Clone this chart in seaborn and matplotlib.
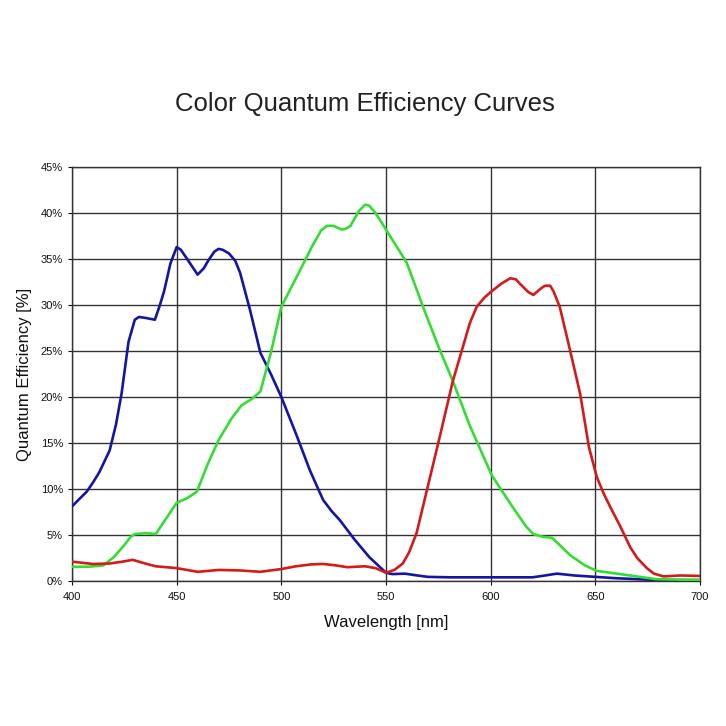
import matplotlib
matplotlib.use("Agg")
import matplotlib.pyplot as plt
import seaborn as sns
import pandas as pd
from matplotlib.ticker import FuncFormatter

blue_wl = [400, 403, 407, 410, 413, 418, 421, 423.7, 427, 430, 432, 435, 439.6, 442, 444, 447, 450, 452, 455, 460, 463, 465, 468, 470, 472, 475, 478, 480.3, 485, 490, 495, 500, 507, 513.7, 518, 520, 524, 528, 535, 542, 550, 553, 559, 565, 570, 580, 600, 620, 626, 631.6, 640, 650, 660, 670, 680, 700]
blue_qe = [8.1, 8.8, 9.7, 10.7, 11.8, 14.2, 17.0, 20.4, 26.0, 28.4, 28.7, 28.6, 28.4, 30.0, 31.5, 34.5, 36.3, 36.0, 35.0, 33.3, 34.0, 34.8, 35.8, 36.1, 36.0, 35.6, 34.8, 33.5, 29.5, 24.8, 22.5, 20.0, 16.0, 12.0, 9.8, 8.8, 7.6, 6.6, 4.5, 2.6, 0.9, 0.75, 0.8, 0.6, 0.45, 0.4, 0.4, 0.4, 0.6, 0.8, 0.6, 0.45, 0.3, 0.2, 0.1, 0.1]

green_wl = [400, 408, 415, 420, 425, 428, 430, 435, 440, 445, 450, 455, 459.6, 465, 470, 476, 481, 486, 490, 495, 500, 509, 515, 519, 521.7, 525, 528.8, 531, 533, 537, 540, 542, 545, 550, 559.9, 567.7, 575, 582, 590, 600.5, 610, 617, 620.4, 625, 629.3, 633, 638, 645, 650.7, 665, 679, 700]
green_qe = [1.55, 1.55, 1.7, 2.6, 3.9, 4.8, 5.1, 5.2, 5.1, 6.8, 8.5, 9.0, 9.7, 12.8, 15.3, 17.6, 19.1, 19.8, 20.6, 24.8, 29.8, 33.8, 36.5, 38.1, 38.6, 38.6, 38.2, 38.3, 38.6, 40.2, 40.9, 40.8, 40.0, 38.2, 34.6, 29.8, 25.5, 21.7, 16.9, 11.5, 8.2, 5.9, 5.1, 4.8, 4.7, 3.9, 2.8, 1.7, 1.1, 0.65, 0.2, 0.1]

red_wl = [400, 410, 418, 424, 429, 435, 440, 450, 460, 470, 480, 490, 500, 507, 514, 520, 526, 531.5, 540, 545, 550, 554, 558, 561, 564.6, 570, 575.7, 582, 586.8, 590, 593.3, 597, 600.5, 605, 609.3, 612, 614, 618, 620.4, 624, 626, 628.4, 630, 633, 638, 642.7, 647, 650.7, 654, 657, 662, 666.6, 670, 674.6, 678, 682.6, 690.7, 700]
red_qe = [2.1, 1.85, 1.9, 2.1, 2.3, 1.9, 1.6, 1.4, 1.0, 1.2, 1.15, 1.0, 1.3, 1.6, 1.8, 1.85, 1.7, 1.5, 1.6, 1.4, 0.9, 1.2, 1.9, 3.1, 5.2, 10.3, 15.7, 21.8, 25.5, 28.0, 29.8, 30.8, 31.5, 32.3, 32.9, 32.8, 32.3, 31.4, 31.1, 31.8, 32.1, 32.1, 31.5, 29.8, 25.0, 20.4, 14.5, 11.3, 9.5, 8.1, 5.9, 3.7, 2.5, 1.4, 0.8, 0.5, 0.6, 0.55]

x_ticks = [400, 450, 500, 550, 600, 650, 700]
y_ticks = [0, 5, 10, 15, 20, 25, 30, 35, 40, 45]

title = "Color Quantum Efficiency Curves"
xlabel = "Wavelength [nm]"
ylabel = "Quantum Efficiency [%]"

sns.set_theme(style="white")
plt.rcParams['font.family'] = ['Liberation Sans', 'DejaVu Sans']

fig = plt.figure(figsize=(7.26, 7.26), dpi=100)
ax = fig.add_axes([72/726, 145/726, 628/726, 414/726])

series = [(blue_wl, blue_qe, "#1515a5"), (green_wl, green_qe, "#33dd33"), (red_wl, red_qe, "#d41a1a")]
for wl, qe, col in series:
    df = pd.DataFrame({"wl": wl, "qe": qe})
    sns.lineplot(data=df, x="wl", y="qe", ax=ax, color=col, linewidth=1.9, zorder=3,
                 solid_joinstyle="round", solid_capstyle="round")

ax.set_xlim(400, 700)
ax.set_ylim(0, 45)
ax.set_xticks(x_ticks)
ax.set_yticks(y_ticks)
ax.yaxis.set_major_formatter(FuncFormatter(lambda v, p: f"{int(v)}%"))
ax.grid(True, color="#333333", linewidth=1.0)
ax.set_axisbelow(True)
for s in ax.spines.values():
    s.set_color("#333333")
    s.set_linewidth(1.0)
ax.tick_params(axis="both", labelsize=8, colors="#111111", length=3, direction="out", left=True, bottom=True, width=0.8)
ax.tick_params(axis="x", pad=5)
ax.set_xlabel(xlabel, fontsize=12, color="#111111", labelpad=9)
ax.set_ylabel(ylabel, fontsize=12, color="#111111", labelpad=6)
fig.text(0.503, 1 - 104/726, title, ha="center", va="center", fontsize=18.5, color="#222222")

fig.savefig("out.png", dpi=100)
